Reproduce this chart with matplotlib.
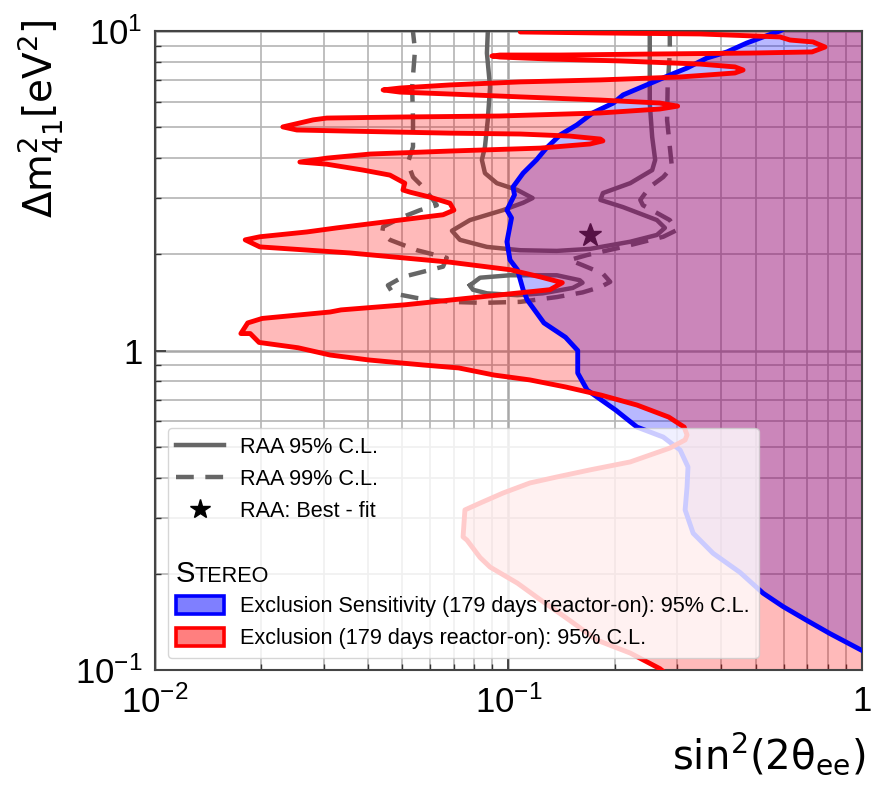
import numpy as np
import matplotlib
matplotlib.use("Agg")
import matplotlib.pyplot as plt
from matplotlib.lines import Line2D
from matplotlib.patches import Patch
from matplotlib.ticker import NullFormatter

red_sin2 = [0.182, 0.108, 0.182, 0.348, 0.586, 0.626, 0.727, 0.786, 0.722, 0.482,
            0.251, 0.140, 0.0946, 0.0898, 0.0946, 0.131, 0.207, 0.348, 0.437, 0.461,
            0.437, 0.306, 0.182, 0.108, 0.0683, 0.0493, 0.0442, 0.0493, 0.0683, 0.108,
            0.182, 0.268, 0.301, 0.268, 0.182, 0.0946, 0.0493, 0.0306, 0.0280, 0.0230,
            0.0252, 0.0356, 0.0683, 0.108, 0.149, 0.182, 0.185, 0.170, 0.123, 0.0683,
            0.0406, 0.0306, 0.0257, 0.0306, 0.0388, 0.0462, 0.0509, 0.0503, 0.0527, 0.0600,
            0.0683, 0.0701, 0.0653, 0.0493, 0.0327, 0.0269, 0.0198, 0.0180, 0.0198, 0.0356,
            0.0683, 0.101, 0.123, 0.142, 0.131, 0.0778, 0.0509, 0.0336, 0.0313, 0.0201,
            0.0183, 0.0175, 0.0186, 0.0197, 0.0254, 0.0313, 0.0403, 0.0573, 0.0723, 0.0910,
            0.115, 0.145, 0.183, 0.231, 0.284, 0.314, 0.320, 0.316, 0.286, 0.221,
            0.170, 0.137, 0.115, 0.0965, 0.0831, 0.0753, 0.0744, 0.0763, 0.0831, 0.0887,
            0.106, 0.123, 0.149, 0.178, 0.221, 0.268, 0.306]
red_dm2 = [10.3, 9.93, 9.86, 9.79, 9.58, 9.37, 9.24, 8.91, 8.60, 8.53,
           8.47, 8.41, 8.41, 8.35, 8.29, 8.17, 8.06, 7.88, 7.72, 7.55,
           7.39, 7.18, 7.03, 6.93, 6.78, 6.63, 6.54, 6.44, 6.35, 6.22,
           6.08, 5.95, 5.82, 5.70, 5.54, 5.42, 5.38, 5.34, 5.27, 5.01,
           4.90, 4.86, 4.79, 4.76, 4.69, 4.59, 4.53, 4.43, 4.30, 4.21,
           4.12, 4.00, 3.89, 3.83, 3.67, 3.54, 3.34, 3.18, 3.13, 3.02,
           2.89, 2.75, 2.66, 2.56, 2.42, 2.35, 2.27, 2.22, 2.11, 2.02,
           1.89, 1.79, 1.70, 1.63, 1.55, 1.46, 1.39, 1.34, 1.32, 1.26,
           1.22, 1.13, 1.13, 1.06, 1.02, 0.968, 0.934, 0.901, 0.882, 0.838,
           0.809, 0.769, 0.725, 0.675, 0.619, 0.576, 0.544, 0.525, 0.495, 0.448,
           0.423, 0.402, 0.385, 0.358, 0.333, 0.317, 0.261, 0.255, 0.225, 0.210,
           0.187, 0.166, 0.143, 0.124, 0.113, 0.101, 0.0898]

# STEREO exclusion sensitivity, 95% C.L.
blue_sin2 = [0.626, 0.586, 0.525, 0.472, 0.415, 0.364, 0.320, 0.286, 0.246, 0.211,
             0.198, 0.173, 0.156, 0.140, 0.128, 0.120, 0.110, 0.103, 0.104, 0.0990,
             0.102, 0.0990, 0.101, 0.106, 0.110, 0.113, 0.126, 0.145, 0.157, 0.157,
             0.167, 0.201, 0.231, 0.274, 0.306, 0.322, 0.320, 0.316, 0.333, 0.379,
             0.452, 0.525, 0.598, 0.698, 0.812, 0.987, 1.12]
blue_dm2 = [10.4, 10.0, 9.58, 9.17, 8.60, 8.23, 7.66, 7.28, 6.78, 6.31,
            5.95, 5.54, 5.08, 4.73, 4.30, 3.95, 3.59, 3.25, 3.07, 2.75,
            2.60, 2.19, 1.92, 1.79, 1.55, 1.44, 1.22, 1.10, 1.00, 0.850,
            0.752, 0.651, 0.576, 0.536, 0.488, 0.432, 0.374, 0.317, 0.268, 0.232,
            0.202, 0.174, 0.158, 0.143, 0.130, 0.116, 0.108]

# RAA allowed regions
raa95_sin2 = [0.0874, 0.0874, 0.0869, 0.0887, 0.0874, 0.0858, 0.0841, 0.0858, 0.0927, 0.106,
              0.117, 0.110, 0.0965, 0.0778, 0.0692, 0.0729, 0.0869, 0.108, 0.137, 0.170,
              0.221, 0.263, 0.277, 0.263, 0.211, 0.182, 0.185, 0.221, 0.255, 0.260,
              0.255, 0.251, 0.251, 0.251, 0.251]
raa95_dm2 = [10.4, 9.93, 8.53, 6.68, 5.27, 4.34, 3.95, 3.59, 3.34, 3.18,
             3.00, 2.90, 2.75, 2.56, 2.37, 2.22, 2.11, 2.06, 2.05, 2.08,
             2.19, 2.30, 2.42, 2.56, 2.81, 2.96, 3.11, 3.34, 3.67, 3.95,
             4.66, 5.95, 7.55, 9.37, 10.4]
raa95_island_sin2 = [0.0778, 0.0831, 0.101, 0.137, 0.159, 0.162, 0.152, 0.125, 0.106, 0.0869,
                     0.0793, 0.0778]
raa95_island_dm2 = [1.60, 1.69, 1.72, 1.72, 1.66, 1.63, 1.57, 1.51, 1.49, 1.51,
                    1.55, 1.60]
raa99_sin2 = [0.0537, 0.0537, 0.0544, 0.0534, 0.0537, 0.0537, 0.0519, 0.0537, 0.0573, 0.0612,
              0.0627, 0.0562, 0.0503, 0.0442, 0.0439, 0.0462, 0.0551, 0.0669, 0.0653, 0.0503,
              0.0456, 0.0471, 0.0551, 0.0683, 0.0847, 0.108, 0.137, 0.162, 0.182, 0.194,
              0.185, 0.162, 0.149, 0.167, 0.211, 0.274, 0.299, 0.286, 0.240, 0.236,
              0.251, 0.274, 0.290, 0.286, 0.281, 0.282, 0.286, 0.286, 0.286]
raa99_dm2 = [10.4, 9.93, 8.72, 6.68, 5.27, 4.34, 3.86, 3.49, 3.25, 2.96,
             2.85, 2.75, 2.62, 2.44, 2.33, 2.22, 2.06, 1.95, 1.83, 1.70,
             1.60, 1.51, 1.46, 1.42, 1.41, 1.42, 1.47, 1.52, 1.58, 1.64,
             1.74, 1.85, 1.92, 1.99, 2.11, 2.27, 2.38, 2.56, 2.85, 2.96,
             3.25, 3.49, 3.75, 4.34, 5.27, 6.68, 8.53, 9.93, 10.4]
best_fit_sin2 = 0.17
best_fit_dm2 = 2.30

x_ticks = [0.01, 0.1, 1]
x_tick_labels = [r'$10^{-2}$', r'$10^{-1}$', '1']
y_ticks = [0.1, 1, 10]
y_tick_labels = [r'$10^{-1}$', '1', r'$10^{1}$']

legend_labels = ['RAA 95% C.L.', 'RAA 99% C.L.', 'RAA: Best - fit', ' ', ' ',
                 'Exclusion Sensitivity (179 days reactor-on): 95% C.L.',
                 'Exclusion (179 days reactor-on): 95% C.L.']

plt.rcParams['font.family'] = ['Liberation Sans', 'DejaVu Sans']
plt.rcParams['mathtext.fontset'] = 'custom'
plt.rcParams['mathtext.rm'] = 'Liberation Sans'
plt.rcParams['mathtext.it'] = 'Liberation Sans:italic'
plt.rcParams['mathtext.bf'] = 'Liberation Sans:bold'

raa_col = '#666666'
raa_dash = (0, (4.0, 2.6))
x_far = 1.5  # right closing edge of the excluded areas, outside the axes

fig = plt.figure(figsize=(8.88, 7.89), dpi=100)
ax = fig.add_axes([0.1745, 0.1508, 0.7962, 0.8099])
ax.set_xscale('log')
ax.set_yscale('log')
ax.set_xlim(0.01, 1)
ax.set_ylim(0.1, 10)

ax.set_axisbelow(True)
ax.grid(which='major', color='#a8a8a8', lw=1.8)
ax.grid(which='minor', color='#b4b4b4', lw=1.2)

# RAA contours sit below the excluded areas
ax.plot(raa95_sin2, raa95_dm2, color=raa_col, lw=3.2, zorder=1)
ax.plot(raa95_island_sin2, raa95_island_dm2, color=raa_col, lw=3.2, zorder=1)
ax.plot(raa99_sin2, raa99_dm2, color=raa_col, lw=3.2, ls=raa_dash, zorder=1)
ax.plot([best_fit_sin2], [best_fit_dm2], ls='none', marker='*', ms=17,
        color='#222222', zorder=1)

ax.fill_betweenx(blue_dm2, blue_sin2, x_far, color='blue', alpha=0.28, lw=0, zorder=2)
ax.fill_betweenx(red_dm2, red_sin2, x_far, color='red', alpha=0.27, lw=0, zorder=2.1)
ax.plot(blue_sin2, blue_dm2, color='blue', lw=3.5, zorder=3)
ax.plot(red_sin2, red_dm2, color='red', lw=3.5, zorder=3.1)

ax.set_xticks(x_ticks, labels=x_tick_labels)
ax.set_yticks(y_ticks, labels=y_tick_labels)
ax.xaxis.set_minor_formatter(NullFormatter())
ax.yaxis.set_minor_formatter(NullFormatter())
ax.tick_params(which='both', direction='in', labelsize=25, colors='#333333',
               labelcolor='black')
ax.tick_params(which='major', length=8, width=1.2, pad=11)
ax.tick_params(which='minor', length=4, width=1.0)
ax.tick_params(axis='y', which='major', pad=9)
for sp in ax.spines.values():
    sp.set_color('#444444')
    sp.set_linewidth(1.5)

ax.set_xlabel(r'sin$^2$(2θ$_{\mathrm{ee}}$)', fontsize=29, family='DejaVu Sans',
              math_fontfamily='dejavusans', loc='right')
ax.xaxis.set_label_coords(1.005, -0.095)
ax.set_ylabel(r'Δm$^2_{41}$[eV$^2$]', fontsize=28, family='DejaVu Sans',
              math_fontfamily='dejavusans', loc='top')
ax.yaxis.set_label_coords(-0.126, 1.018)

handles = [Line2D([], [], color=raa_col, lw=3.2),
           Line2D([], [], color=raa_col, lw=3.2, ls=raa_dash),
           Line2D([], [], ls='none', marker='*', ms=15, color='black'),
           Line2D([], [], ls='none'),
           Line2D([], [], ls='none'),
           Patch(facecolor=(0, 0, 1, 0.5), edgecolor='blue', lw=2.6),
           Patch(facecolor=(1, 0, 0, 0.5), edgecolor='red', lw=2.6)]
leg = ax.legend(handles, legend_labels, loc='lower left', bbox_to_anchor=(0.018, 0.019),
                borderaxespad=0, prop={'size': 15.6},
                framealpha=0.8, edgecolor='#cccccc', fancybox=True,
                handlelength=2.2, handleheight=0.9, handletextpad=0.75,
                labelspacing=0.48, borderpad=0.4)
leg.set_zorder(5)

ax.text(0.030, 0.138, 'S', transform=ax.transAxes, fontsize=21,
        va='baseline', zorder=6)
ax.text(0.0565, 0.138, 'TEREO', transform=ax.transAxes, fontsize=15.6,
        va='baseline', zorder=6)

fig.savefig('out.png', dpi=100)
